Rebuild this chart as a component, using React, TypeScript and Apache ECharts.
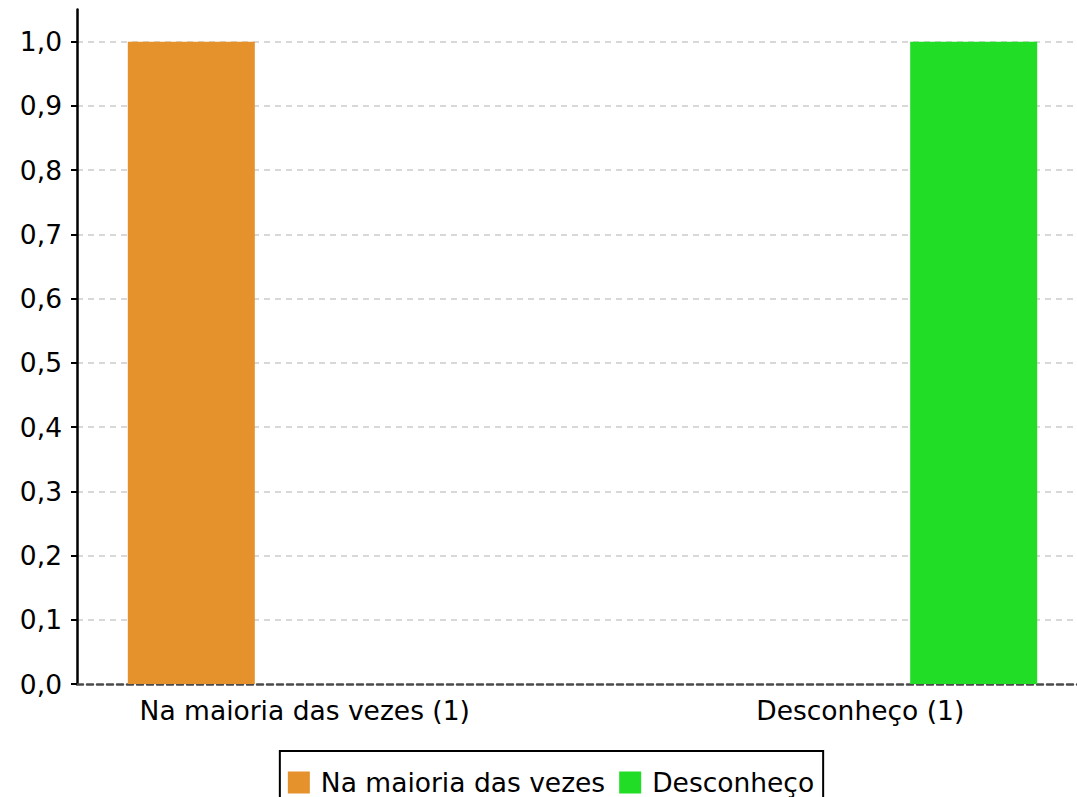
import React, { useEffect, useRef } from "react";
import * as echarts from "echarts";

const categories = ["Na maioria das vezes (1)", "Desconheço (1)"];
const seriesNames = ["Na maioria das vezes", "Desconheço"];
const seriesValues = [
  [1, 0],
  [0, 1],
];
const seriesColors = ["#E5922C", "#21DD26"];
const yTicks = [0, 0.1, 0.2, 0.3, 0.4, 0.5, 0.6, 0.7, 0.8, 0.9, 1.0];

const FONT = "DejaVu Sans";
const FS = 26.5;

export default function App() {
  const ref = useRef<HTMLDivElement>(null);
  useEffect(() => {
    if (!ref.current) return;
    const chart = echarts.init(ref.current, undefined, { renderer: "svg" });
    chart.setOption({
      animation: false,
      backgroundColor: "#ffffff",
      textStyle: { fontFamily: FONT },
      grid: { left: 77, right: 14, top: 9.6, height: 674.4, containLabel: false },
      legend: {
        data: seriesNames,
        left: "center",
        top: 751,
        orient: "horizontal",
        itemWidth: 22,
        itemHeight: 22,
        itemGap: 14,
        icon: "rect",
        borderColor: "#000",
        borderWidth: 2,
        borderRadius: 0,
        padding: [18, 9, 18, 8],
        textStyle: { fontFamily: FONT, fontSize: FS, color: "#000", padding: [0, 0, 0, 6] },
      },
      xAxis: {
        type: "category",
        data: categories,
        axisLine: { show: true, lineStyle: { color: "#4a4a4a", width: 2.5, type: [6, 4] } },
        axisTick: { show: false },
        splitLine: { show: false },
        axisLabel: {
          interval: 0,
          hideOverlap: false,
          margin: 13,
          fontFamily: FONT,
          fontSize: FS,
          color: "#000",
          formatter: (v: string) => (v === categories[0] ? `{a|${v}}` : `{b|${v}}`),
          rich: {
            a: { fontFamily: FONT, fontSize: FS, color: "#000", padding: [0, 50, 0, 0] },
            b: { fontFamily: FONT, fontSize: FS, color: "#000", padding: [0, 0, 0, 50] },
          },
        },
      },
      yAxis: {
        type: "value",
        min: 0,
        max: 1.05,
        interval: 0.1,
        axisLine: { show: true, lineStyle: { color: "#000", width: 2.5 } },
        axisTick: { show: true, length: 6, lineStyle: { color: "#000", width: 2 }, customValues: yTicks },
        axisLabel: {
          margin: 15,
          fontFamily: FONT,
          fontSize: FS,
          color: "#000",
          customValues: yTicks,
          formatter: (v: number) => v.toFixed(1).replace(".", ","),
        },
        splitLine: {
          show: true,
          showMinLine: false,
          showMaxLine: true,
          lineStyle: { color: "#cccccc", width: 1.5, type: [6, 5] },
        },
      },
      series: seriesNames.map((name, i) => ({
        name,
        type: "bar",
        data: seriesValues[i],
        barWidth: 127,
        barGap: "118%",
        itemStyle: { color: seriesColors[i] },
      })),
    });
    return () => chart.dispose();
  }, []);
  return (
    <div style={{ position: "fixed", left: 0, top: 0, width: 1077, height: 797, overflow: "hidden", background: "#fff" }}>
      <div ref={ref} style={{ width: 1102, height: 840 }} />
    </div>
  );
}
